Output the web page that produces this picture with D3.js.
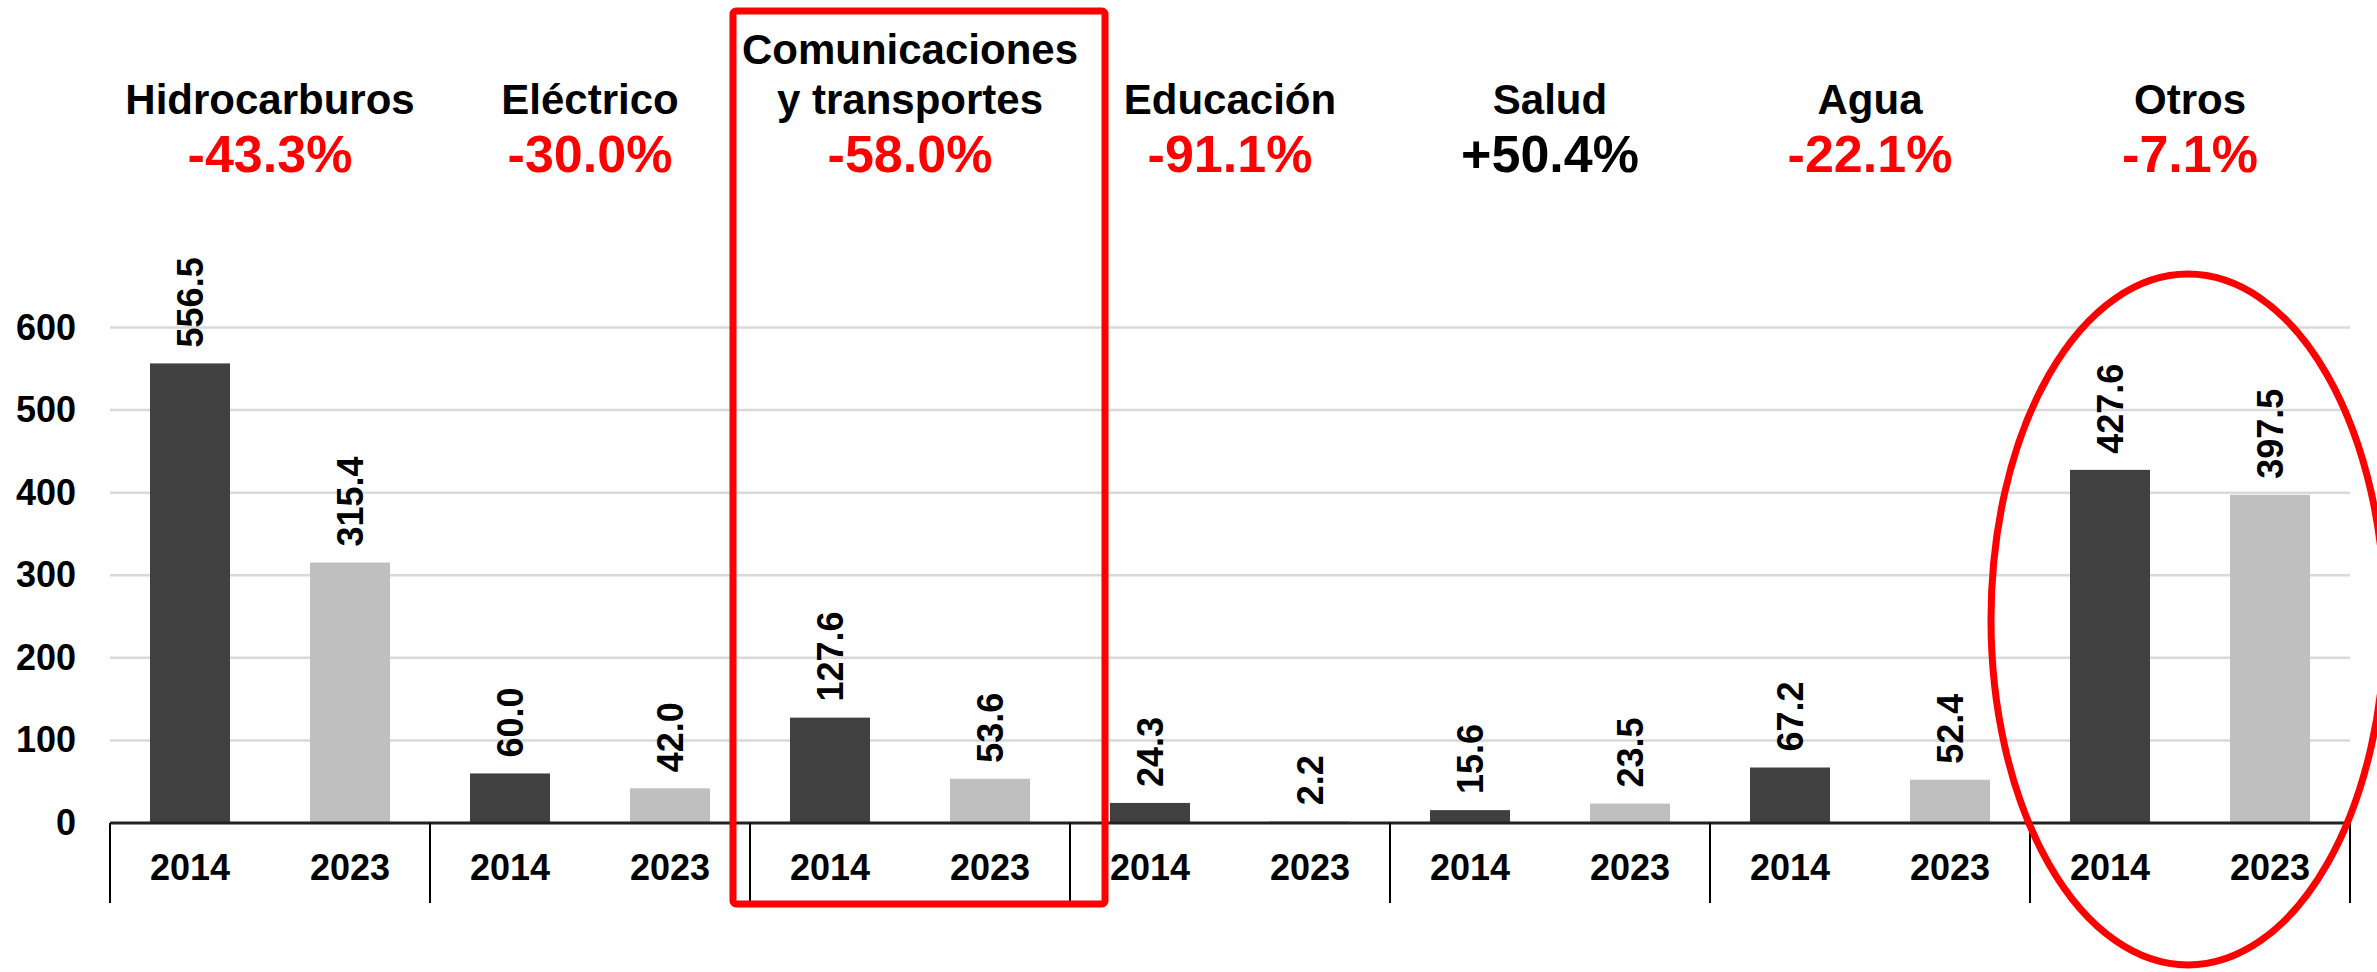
<!DOCTYPE html>
<html>
<head>
<meta charset="utf-8">
<script src="https://cdn.jsdelivr.net/npm/d3@7"></script>
<style>
  html, body { margin: 0; padding: 0; background: #ffffff; }
  svg { display: block; font-family: "Liberation Sans", Arial, sans-serif; }
</style>
</head>
<body>
<svg id="chart" width="2377" height="972"></svg>
<script>
// ---- data ----
const categories = ["Hidrocarburos", "Eléctrico", "Comunicaciones\ny transportes", "Educación", "Salud", "Agua", "Otros"];
const years = ["2014", "2023"];
const values2014 = [556.5, 60.0, 127.6, 24.3, 15.6, 67.2, 427.6];
const values2023 = [315.4, 42.0, 53.6, 2.2, 23.5, 52.4, 397.5];
const changes = ["-43.3%", "-30.0%", "-58.0%", "-91.1%", "+50.4%", "-22.1%", "-7.1%"];
const yTicks = [0, 100, 200, 300, 400, 500, 600];

const svg = d3.select("#chart");
const left = 110, right = 2350, base = 823, top600 = 327.5;

const x0 = d3.scaleBand().domain(categories).range([left, right]).paddingInner(0).paddingOuter(0);
const x1 = d3.scaleBand().domain(years).range([0, x0.bandwidth()]).paddingInner(0.5).paddingOuter(0.25);
const y = d3.scaleLinear().domain([0, 600]).range([base, top600]);
const colors = { "2014": "#404040", "2023": "#bfbfbf" };

const rows = [];
categories.forEach((c, i) => {
  rows.push({ cat: c, year: "2014", v: values2014[i] });
  rows.push({ cat: c, year: "2023", v: values2023[i] });
});

// gridlines
svg.append("g").selectAll("line").data(yTicks.filter(t => t > 0)).join("line")
  .attr("x1", left).attr("x2", right)
  .attr("y1", d => y(d)).attr("y2", d => y(d))
  .attr("stroke", "#d9d9d9").attr("stroke-width", 2.5);

// y axis labels
const yAxis = svg.append("g").attr("transform", `translate(${left},0)`)
  .call(d3.axisLeft(y).tickValues(yTicks).tickSize(0).tickPadding(34).tickFormat(d3.format("d")));
yAxis.select(".domain").remove();
yAxis.selectAll("text").attr("font-size", 36).attr("font-weight", "bold").attr("fill", "#000")
  .attr("font-family", "Liberation Sans, Arial, sans-serif");

// bars
svg.append("g").selectAll("rect").data(rows).join("rect")
  .attr("x", d => x0(d.cat) + x1(d.year))
  .attr("width", x1.bandwidth())
  .attr("y", d => y(d.v))
  .attr("height", d => base - y(d.v))
  .attr("fill", d => colors[d.year]);

// value labels
svg.append("g").selectAll("text").data(rows).join("text")
  .attr("transform", d => `translate(${x0(d.cat) + x1(d.year) + x1.bandwidth() / 2},${y(d.v) - 16}) rotate(-90)`)
  .attr("text-anchor", "start")
  .attr("dominant-baseline", "central")
  .attr("font-size", 36).attr("font-weight", "bold").attr("fill", "#000")
  .text(d => d.v.toFixed(1));

// x axis baseline
svg.append("line").attr("x1", left).attr("x2", right).attr("y1", base).attr("y2", base)
  .attr("stroke", "#222").attr("stroke-width", 3);

// category separators
const seps = categories.map(c => x0(c)).concat([right]);
svg.append("g").selectAll("line").data(seps).join("line")
  .attr("x1", d => d).attr("x2", d => d).attr("y1", base).attr("y2", 903)
  .attr("stroke", "#000").attr("stroke-width", 2);

// year labels
svg.append("g").selectAll("text").data(rows).join("text")
  .attr("x", d => x0(d.cat) + x1(d.year) + x1.bandwidth() / 2)
  .attr("y", 880)
  .attr("text-anchor", "middle")
  .attr("font-size", 36).attr("font-weight", "bold").attr("fill", "#000")
  .text(d => d.year);

// headers
const hdr = svg.append("g");
categories.forEach((c, i) => {
  const cx = x0(c) + x0.bandwidth() / 2;
  const lines = c.split("\n");
  lines.forEach((ln, j) => {
    hdr.append("text")
      .attr("x", cx).attr("y", 114 - (lines.length - 1 - j) * 50)
      .attr("text-anchor", "middle")
      .attr("font-size", 42).attr("font-weight", "bold").attr("fill", "#000")
      .text(ln);
  });
  hdr.append("text")
    .attr("x", cx).attr("y", 172)
    .attr("text-anchor", "middle")
    .attr("font-size", 52).attr("font-weight", "bold")
    .attr("fill", changes[i].startsWith("+") ? "#000" : "#ff0000")
    .text(changes[i]);
});

// highlight rectangle around Comunicaciones
const ci = categories[2];
svg.append("rect")
  .attr("x", x0(ci) - 17).attr("y", 11)
  .attr("width", x0.bandwidth() + 52).attr("height", 893)
  .attr("rx", 3)
  .attr("fill", "none").attr("stroke", "#ff0000").attr("stroke-width", 7);

// highlight ellipse around Otros
const oi = categories[6];
svg.append("ellipse")
  .attr("cx", x0(oi) + x0.bandwidth() / 2 - 2).attr("cy", 619.5)
  .attr("rx", 197).attr("ry", 345.5)
  .attr("fill", "none").attr("stroke", "#ff0000").attr("stroke-width", 7);
</script>
</body>
</html>
